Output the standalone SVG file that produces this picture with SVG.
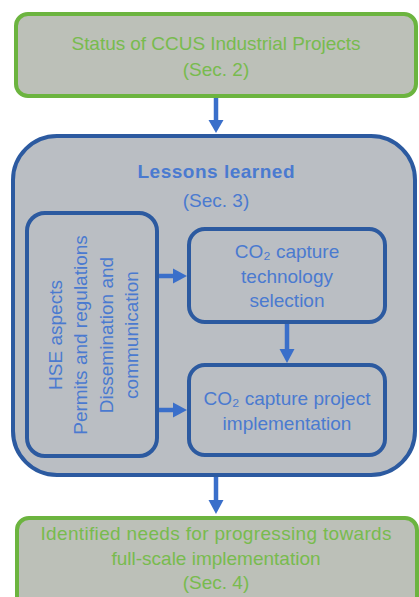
<svg xmlns="http://www.w3.org/2000/svg" width="419" height="597" viewBox="0 0 419 597">
  <style>
    .green-box { fill: #bcc0b8; stroke: #6cb43f; stroke-width: 4; }
    .outer-box { fill: #babec3; stroke: #2c5aa0; stroke-width: 4; }
    .inner-box { fill: #babec3; stroke: #2c5aa0; stroke-width: 4; }
    .gtxt { font-family: "Liberation Sans", Arial, sans-serif; font-size: 19px; fill: #78bb4e; text-anchor: middle; }
    .btxt { font-family: "Liberation Sans", Arial, sans-serif; font-size: 19px; fill: #4a7ad0; text-anchor: middle; }
    .bold { font-weight: bold; }
    .conn { stroke: #3a6fca; stroke-width: 4.5; fill: none; }
    .head { fill: #3a6fca; }
  </style>
  <rect width="419" height="597" fill="#ffffff"/>

  <g id="status-projects">
    <rect class="green-box" x="16" y="14" width="400" height="82" rx="12"/>
    <text class="gtxt" x="216" y="50" textLength="289">Status of CCUS Industrial Projects</text>
    <text class="gtxt" x="216" y="76">(Sec. 2)</text>
  </g>

  <g id="lessons-learned">
    <rect class="outer-box" x="13" y="136" width="402" height="339" rx="44"/>
    <text class="btxt bold" x="216" y="178" textLength="157">Lessons learned</text>
    <text class="btxt" x="216" y="207">(Sec. 3)</text>
  </g>

  <g id="hse-permits-dissemination">
    <rect class="inner-box" x="27" y="213" width="130" height="243" rx="18"/>
    <g transform="translate(92,335) rotate(-90)" class="btxt">
      <text x="0" y="-30">HSE aspects</text>
      <text x="0" y="-5">Permits and regulations</text>
      <text x="0" y="21">Dissemination and</text>
      <text x="0" y="46">communication</text>
    </g>
  </g>

  <g id="technology-selection">
    <rect class="inner-box" x="189" y="229" width="196" height="93" rx="16"/>
    <text class="btxt" x="287" y="258">CO₂ capture</text>
    <text class="btxt" x="287" y="283">technology</text>
    <text class="btxt" x="287" y="307">selection</text>
  </g>

  <g id="project-implementation">
    <rect class="inner-box" x="189" y="365" width="196" height="90" rx="16"/>
    <text class="btxt" x="287" y="405">CO₂ capture project</text>
    <text class="btxt" x="287" y="430">implementation</text>
  </g>

  <g id="identified-needs">
    <rect class="green-box" x="17" y="518" width="400" height="100" rx="12"/>
    <text class="gtxt" x="216" y="540" textLength="351">Identified needs for progressing towards</text>
    <text class="gtxt" x="216" y="565">full-scale implementation</text>
    <text class="gtxt" x="216" y="589">(Sec. 4)</text>
  </g>

  <g id="connectors">
    <line class="conn" x1="216" y1="98" x2="216" y2="121"/>
    <polygon class="head" points="208.5,120 223.5,120 216,133"/>

    <line class="conn" x1="159" y1="276" x2="174" y2="276"/>
    <polygon class="head" points="173,268.5 173,283.5 187,276"/>

    <line class="conn" x1="159" y1="410" x2="174" y2="410"/>
    <polygon class="head" points="173,402.5 173,417.5 187,410"/>

    <line class="conn" x1="287" y1="324" x2="287" y2="350"/>
    <polygon class="head" points="279.5,349 294.5,349 287,363"/>

    <line class="conn" x1="216" y1="477" x2="216" y2="501"/>
    <polygon class="head" points="208.5,500 223.5,500 216,514"/>
  </g>
</svg>
